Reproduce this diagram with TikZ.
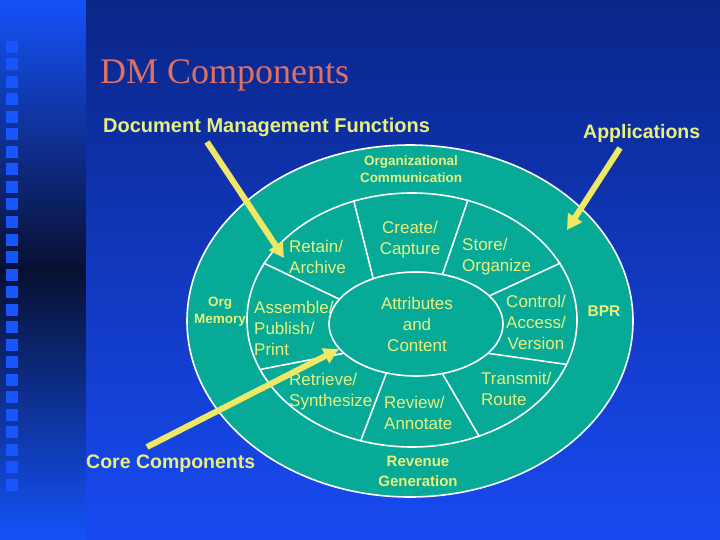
\documentclass[tikz,border=0pt]{standalone}
\usepackage{fontspec}
\setmainfont{Liberation Sans}
\newfontfamily\titlefont{Liberation Serif}
\usetikzlibrary{arrows.meta,shapes.geometric}
\definecolor{ringfill}{RGB}{6,170,150}
\definecolor{lbltext}{RGB}{232,240,128}
\definecolor{arrowyel}{RGB}{240,232,100}
\definecolor{titlered}{RGB}{222,112,100}
\definecolor{bgtop}{RGB}{10,38,136}
\definecolor{bgbot}{RGB}{24,74,242}
\definecolor{stripend}{RGB}{20,82,248}
\definecolor{stripmid}{RGB}{8,16,50}
\definecolor{sqblue}{RGB}{22,86,252}

\begin{document}
\begin{tikzpicture}[x=1pt,y=-1pt,
  ring/.style={ellipse,draw=white,line width=1.6pt,fill=ringfill,inner sep=0pt},
  spoke/.style={draw=white,line width=1.6pt},
  lbl/.style={text=lbltext,inner sep=0pt,align=left,font=\fontsize{17}{21}\selectfont},
  small/.style={text=lbltext,inner sep=0pt,align=center,font=\bfseries\fontsize{13.5}{17}\selectfont},
  head/.style={text=lbltext,inner sep=0pt,anchor=base west,font=\bfseries\fontsize{19.5}{23}\selectfont},
  pointer/.style={draw=arrowyel,line width=6pt,-{Triangle[width=16pt,length=15pt]}}]
  \useasboundingbox (0,0) rectangle (720,540);
  \shade[top color=stripend,bottom color=stripend,middle color=stripmid] (0,0) rectangle (86,540);
  \shade[top color=bgtop,bottom color=bgbot] (86,0) rectangle (720,540);
  \foreach \i in {0,...,25}
    \fill[sqblue] (6,41+17.5*\i) rectangle +(12,12);

  \node[text=titlered,anchor=base west,inner sep=0pt,font=\titlefont\fontsize{36}{40}\selectfont] (title) at (100,84) {DM Components};
  \node[head,font=\bfseries\fontsize{20}{24}\selectfont] (dmf) at (103,133) {Document Management Functions};
  \node[head] (app) at (583,139) {Applications};
  \node[head] (core) at (86,468) {Core Components};

  \node[ring,minimum width=446,minimum height=352] (outer) at (410,321) {};
  \node[ring,minimum width=330,minimum height=254] (mid) at (412,320) {};
  \node[ring,minimum width=174,minimum height=104] (hub) at (416,324) {};

  \draw[spoke] (mid.116.6) -- (hub.133);
  \draw[spoke] (mid.65.9) -- (hub.62);
  \draw[spoke] (mid.21.1) -- (hub.21.5);
  \draw[spoke] (mid.-16) -- (hub.-22);
  \draw[spoke] (mid.-60.6) -- (hub.-62);
  \draw[spoke] (mid.247.5) -- (hub.239);
  \draw[spoke] (mid.198.3) -- (hub.202);
  \draw[spoke] (mid.159.5) -- (hub.162.6);

  \node[small] (orgcom) at (411,169) {Organizational\\Communication};
  \node[small] (orgmem) at (220,312) {Org\\Memory};
  \node[small,font=\bfseries\fontsize{15}{20}\selectfont] (revenue) at (418,471) {Revenue\\Generation};
  \node[small,font=\bfseries\fontsize{15.5}{19}\selectfont] (bpr) at (604,311) {BPR};

  \node[lbl,anchor=west] (retain) at (289,257) {Retain/\\Archive};
  \node[lbl,align=center] (create) at (410,240) {Create/\\Capture};
  \node[lbl,anchor=west] (store) at (462,257) {Store/\\Organize};
  \node[lbl,align=center] (control) at (536,322) {Control/\\Access/\\Version};
  \node[lbl,anchor=west] (transmit) at (481,389) {Transmit/\\Route};
  \node[lbl,anchor=west] (review) at (384,413) {Review/\\Annotate};
  \node[lbl,anchor=west] (retrieve) at (289,392) {Retrieve/\\Synthesize};
  \node[lbl,anchor=west] (assemble) at (254,328) {Assemble/\\Publish/\\Print};
  \node[lbl,align=center] (attr) at (417,324) {Attributes\\and\\Content};

  \coordinate (dmftail) at (207,142);
  \coordinate (dmftip) at (284,258);
  \coordinate (apptail) at (620,148);
  \coordinate (apptip) at (567,230);
  \coordinate (coretail) at (147,447);

  \draw[pointer] (dmftail) -- (dmftip);
  \draw[pointer] (apptail) -- (apptip);
  \draw[pointer] (coretail) -- (hub.198);
\end{tikzpicture}
\end{document}
